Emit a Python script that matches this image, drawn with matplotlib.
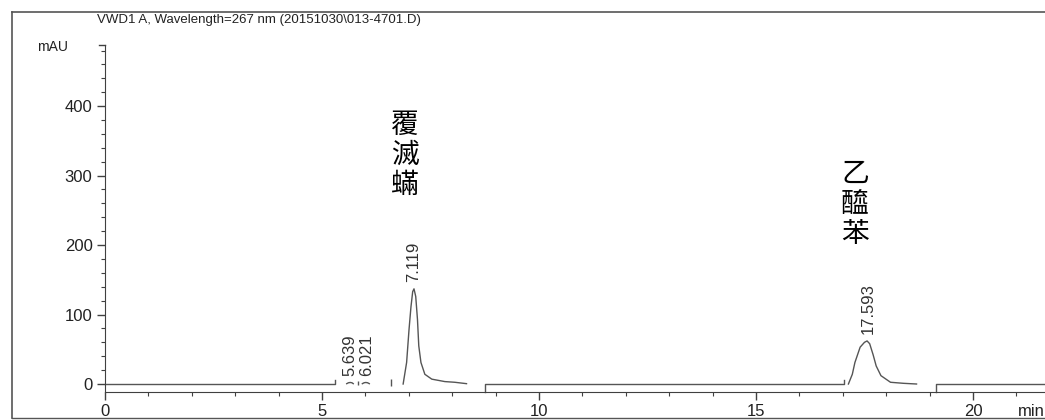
import matplotlib.pyplot as plt
from matplotlib.lines import Line2D
from matplotlib.ticker import MultipleLocator

plt.rcParams['font.family'] = ['Liberation Sans', 'DejaVu Sans']

title = 'VWD1 A, Wavelength=267 nm (20151030\\013-4701.D)'

# signal pieces (time in min, signal in mAU)
seg1_t = [0.0, 5.31, 5.31]
seg1_y = [0.0, 0.0, 6.0]

bump1_t = [5.57, 5.61, 5.65, 5.69, 5.72]
bump1_y = [0.5, 1.8, 2.2, 1.8, 0.5]
bump2_t = [5.93, 5.97, 6.01, 6.05, 6.09]
bump2_y = [0.5, 1.8, 2.2, 1.8, 0.5]

peak1_t = [6.87, 6.95, 7.005, 7.05, 7.09, 7.12, 7.16, 7.20, 7.23, 7.28, 7.37, 7.53, 7.83, 8.06, 8.33]
peak1_y = [0.0, 31, 78, 111, 133, 137, 126, 93, 55, 31, 14, 7, 3.5, 2.5, 0.5]

seg2_t = [8.76, 8.76, 17.02, 17.02]
seg2_y = [-11.0, 0.0, 0.0, 6.0]

peak2_t = [17.13, 17.22, 17.28, 17.40, 17.50, 17.56, 17.62, 17.70, 17.77, 17.88, 18.10, 18.40, 18.70]
peak2_y = [0.0, 14, 31, 53, 60, 62, 58, 42, 26, 12, 2.5, 1, 0]

seg3_t = [19.15, 19.15, 21.7]
seg3_y = [-11.0, 0.0, 0.0]

# integration event marks (time, low, high)
event_t = [5.84, 6.60]
event_lo = [-1.0, -3.0]
event_hi = [5.0, 7.0]

# peak labels
peak_rt = [5.639, 6.021, 7.119, 17.593]
peak_top = [2.2, 2.2, 137, 62]
peak_lab = ['5.639', '6.021', '7.119', '17.593']

# compound names
names = ['覆\n滅\n蟎', '乙\n醯\n苯']
name_t = [6.91, 17.28]
name_y = [330, 259]

fig = plt.figure(figsize=(10.45, 4.2), dpi=100)
ax = fig.add_axes([105 / 1045, 1 - 392 / 420, 1 - 105 / 1045, (392 - 45) / 420])

col = '#555555'
for t, y in [(seg1_t, seg1_y), (bump1_t, bump1_y), (bump2_t, bump2_y),
             (peak1_t, peak1_y), (seg2_t, seg2_y), (peak2_t, peak2_y),
             (seg3_t, seg3_y)]:
    ax.plot(t, y, color=col, lw=1.0, clip_on=False)
ax.vlines(event_t, event_lo, event_hi, color=col, lw=1.0)

for t, h, s in zip(peak_rt, peak_top, peak_lab):
    ax.annotate(s, (t, h), xytext=(0, 5), textcoords='offset points',
                rotation=90, ha='center', va='bottom', fontsize=12, color='#333333')

for s, t, y in zip(names, name_t, name_y):
    ax.text(t, y, s, ha='center', va='center', fontsize=20, linespacing=1.0,
            family=['Noto Sans CJK TC', 'DejaVu Sans'], color='black')

ax.set_xlim(0, 21.66)
ax.set_ylim(-11.5, 488)
ax.set_xticks([0, 5, 10, 15, 20])
ax.set_yticks([0, 100, 200, 300, 400])
ax.xaxis.set_minor_locator(MultipleLocator(1))
ax.yaxis.set_minor_locator(MultipleLocator(20))
ax.tick_params(axis='both', which='major', length=6, width=1, color='#404040',
               labelsize=12, labelcolor='#222222', pad=3)
ax.tick_params(axis='both', which='minor', length=3, width=0.8, color='#404040')
for side in ['top', 'right']:
    ax.spines[side].set_visible(False)
for side in ['left', 'bottom']:
    ax.spines[side].set_color('#404040')
ax.plot([-0.006, 0], [1, 1], transform=ax.transAxes, color='#404040', lw=1, clip_on=False)

ax.text(1, -0.055, 'min', transform=ax.transAxes, fontsize=12, color='#222222',
        ha='right', va='center')

fig.text(37 / 1045, 1 - 47 / 420, 'mAU', fontsize=10, va='center', color='#222222')
fig.text(97 / 1045, 1 - 20 / 420, title, fontsize=9.5, va='center', color='#222222')

# outer frame
frame = '#555555'
fig.add_artist(Line2D([12 / 1045, 12 / 1045], [1 - 12 / 420, 1 - 418 / 420], color=frame, lw=1.2))
fig.add_artist(Line2D([12 / 1045, 1], [1 - 12 / 420, 1 - 12 / 420], color=frame, lw=1.2))
fig.add_artist(Line2D([12 / 1045, 1], [1 - 418 / 420, 1 - 418 / 420], color=frame, lw=1.0))

fig.savefig('out.png', dpi=100)
